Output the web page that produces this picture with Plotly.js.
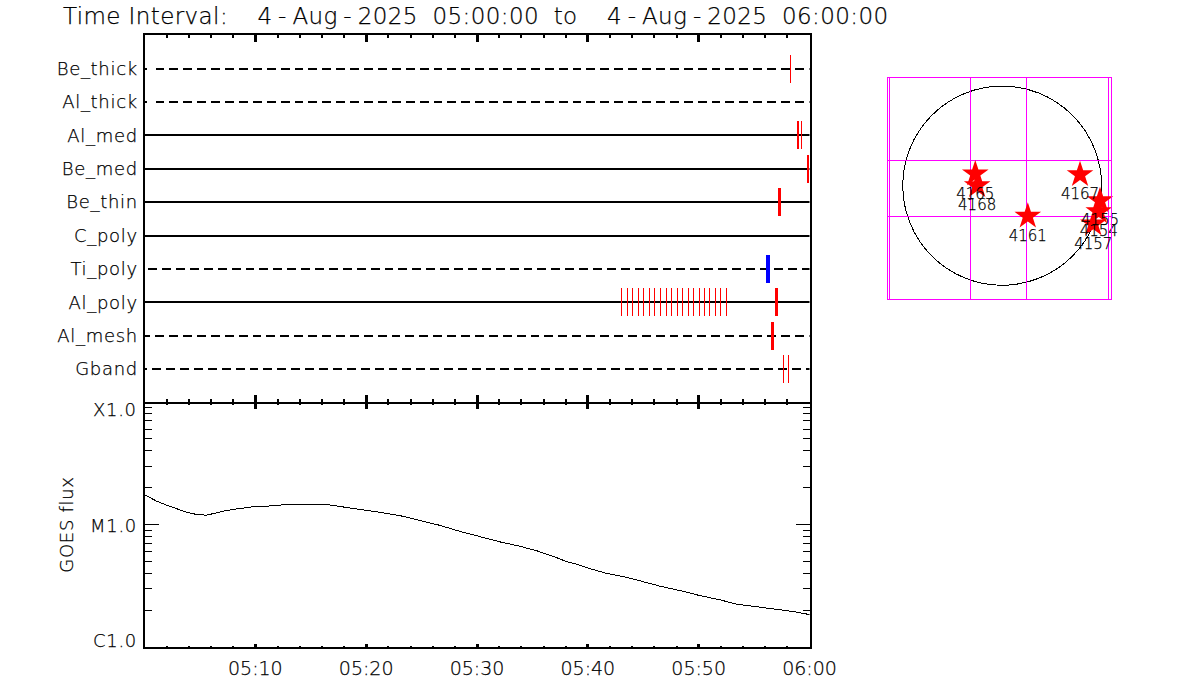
<!DOCTYPE html>
<html><head><meta charset="utf-8">
<script src="https://cdn.plot.ly/plotly-3.0.1.min.js"></script>
<style>html,body{margin:0;padding:0;background:#fff}#c{width:1200px;height:700px}
#c text{stroke:#000;stroke-width:.25px}
.gtitle{letter-spacing:.4px;word-spacing:7px}
.ytick text,.annotation-text,.g-y2title text{letter-spacing:.7px}
.xtick text{letter-spacing:.8px}
#c .js-line,#c .shapelayer path{shape-rendering:crispEdges}
</style>
</head><body><div id="c"></div>
<script>
// Detector rows, top to bottom
const detectors = ['Be_thick','Al_thick','Al_med','Be_med','Be_thin','C_poly','Ti_poly','Al_poly','Al_mesh','Gband'];
const rowPositions = [10,9,8,7,6,5,4,3,2,1];
const rowDashed = [true,true,false,false,false,false,true,false,true,true];
// Dash layout of each dashed row: first stub length and gap after it, pixels
const rowStub = [2,2,0,0,0,0,0,0,5,2.7];
const rowStubGap = [9,9,0,0,0,0,3.7,0,5.7,5];
// Exposure events: minutes after 05:00, row, line width
const eventRow = ['Be_thick','Al_med','Al_med','Be_med','Be_thin','Ti_poly','Al_poly','Al_mesh','Gband','Gband'];
const eventMin = [58.28,58.98,59.28,59.9,57.28,56.25,57.0,56.65,57.65,58.1];
const eventWidth = [1,2,1,2,3,4,3,3,1,1];
const eventColor = ['#ff0000','#ff0000','#ff0000','#ff0000','#ff0000','#0000ff','#ff0000','#ff0000','#ff0000','#ff0000'];
const alPolyThin = [43.05,43.6,44.05,44.6,45.05,45.55,46.05,46.55,47.1,47.55,48.05,48.5,49.05,49.5,50.05,50.5,51.0,51.55,52.0,52.55];
// GOES flux: minutes, watts/m2
const goesMin = [0,1.1,2,2.9,3.8,4.7,5.6,6.5,7.4,8.6,9.8,11.6,12.8,16.4,17.6,19.4,21.2,23,24.8,26.6,28.4,30.25,32.05,33.85,35.4,36.85,38.05,39,40.15,41.65,43.15,44.7,46.5,48.3,50.1,51.9,53.4,54.9,56.7,58.5,60];
const goesFlux = [1.75e-5,1.55e-5,1.438e-5,1.344e-5,1.26e-5,1.207e-5,1.191e-5,1.246e-5,1.301e-5,1.351e-5,1.395e-5,1.421e-5,1.456e-5,1.456e-5,1.403e-5,1.344e-5,1.26e-5,1.184e-5,1.084e-5,9.87e-6,8.82e-6,7.98e-6,7.22e-6,6.65e-6,6.1e-6,5.51e-6,4.99e-6,4.74e-6,4.37e-6,4.0e-6,3.76e-6,3.47e-6,3.14e-6,2.89e-6,2.63e-6,2.43e-6,2.24e-6,2.15e-6,2.04e-6,1.95e-6,1.84e-6];
const goesTicks = [1e-6,1e-5,1e-4];
const goesTickText = ['C1.0','M1.0','X1.0'];
const goesLabelShift = [7,-1,-7];
const goesMinor = [2e-6,3e-6,4e-6,5e-6,6e-6,7e-6,8e-6,9e-6,2e-5,3e-5,4e-5,5e-5,6e-5,7e-5,8e-5,9e-5];
const timeTicks = [10,20,30,40,50,60];
const timeText = ['05:10','05:20','05:30','05:40','05:50','06:00'];
// Flare map, arcsec from disk centre
const arNames = ['4165','4168','4167','4161','4155','4154','4157'];
const arX = [-257,-239,744,245,935,923,871];
const arY = [112,0,105,-291,-143,-248,-365];
const mapGridX = [-1081,-302,232,1020];
const mapGridY = [-1076,240,-291];
const sunRadius = 950;

const INK = '#000';
const FONT = 'DejaVu Sans, sans-serif';
const W = 200;
const fx = p => p/1200, fy = p => 1-p/700;
const dashFor = i => {
  if(!rowDashed[i]) return 'solid';
  const parts = rowStub[i] ? [rowStub[i]+'px', rowStubGap[i]+'px'] : ['0px', rowStubGap[i]+'px'];
  for(let k=0;k<50;k++){parts.push('8.9px','5px');}
  return parts.join(',');
};
const wide = s => '<span style="letter-spacing:6px">'+s+'</span>';
const titleText = '<span style="word-spacing:0">Time Interval:</span>\u00a0\u00a0'
  + wide('4-')+'Au'+wide('g-')+'2025 05:00:00 to\u00a0\u00a0'
  + wide('4-')+'Au'+wide('g-')+'2025 06:00:00';
const traces = [];
detectors.forEach((d,i)=>{
  traces.push({type:'scatter',mode:'lines',xaxis:'x',yaxis:'y',x:[0,60],y:[rowPositions[i],rowPositions[i]],
    line:{color:INK,width:2,dash:dashFor(i)},hoverinfo:'skip',showlegend:false});
});
const rowOf = n => rowPositions[detectors.indexOf(n)];
eventMin.forEach((m,i)=>{
  const r = rowOf(eventRow[i]);
  traces.push({type:'scatter',mode:'lines',xaxis:'x',yaxis:'y',x:[m,m],y:[r-0.42,r+0.42],
    line:{color:eventColor[i],width:eventWidth[i]},showlegend:false});
});
alPolyThin.forEach(m=>{
  const r = rowOf('Al_poly');
  traces.push({type:'scatter',mode:'lines',xaxis:'x',yaxis:'y',x:[m,m],y:[r-0.42,r+0.42],
    line:{color:'#ff0000',width:1},showlegend:false});
});
traces.push({type:'scatter',mode:'lines',xaxis:'x2',yaxis:'y2',x:goesMin,y:goesFlux,line:{color:INK,width:1},showlegend:false});
traces.push({type:'scatter',mode:'lines',xaxis:'x3',yaxis:'y2',x:[],y:[],showlegend:false});
traces.push({type:'scatter',mode:'markers+text',xaxis:'x4',yaxis:'y4',x:arX,y:arY,text:arNames,textposition:'bottom center',
  marker:{symbol:'star',size:20,color:'#ff0000',line:{width:0}},textfont:{family:FONT,size:15,weight:W,color:INK},cliponaxis:false,showlegend:false});

const xcommon = {range:[0,60],showgrid:false,zeroline:false,tickcolor:INK,linecolor:INK,linewidth:2,showline:true,fixedrange:true};
const layout = {
  width:1200,height:700,margin:{l:0,r:0,t:0,b:0},paper_bgcolor:'#fff',plot_bgcolor:'rgba(0,0,0,0)',showlegend:false,
  font:{family:FONT,color:INK,size:15,weight:W},
  title:{text:titleText,font:{family:FONT,size:23,weight:W,color:INK},x:63/1200,xanchor:'left',y:1-16/700,yanchor:'middle'},
  xaxis:{...xcommon,domain:[fx(144.5),fx(809.5)],anchor:'y',side:'top',mirror:'ticks',ticks:'inside',ticklen:7,tickwidth:3,tickvals:timeTicks,showticklabels:false,
    minor:{ticks:'inside',ticklen:3,tickwidth:2,dtick:2,tick0:0,tickcolor:INK,showgrid:false}},
  yaxis:{range:[0.01,11.01],domain:[fy(402),fy(35)],anchor:'x',showgrid:false,zeroline:false,showline:true,linecolor:INK,linewidth:2,mirror:true,
    tickvals:rowPositions,ticktext:detectors,ticks:'',ticklabelstandoff:1,tickfont:{family:FONT,size:18,weight:W,color:INK},fixedrange:true},
  xaxis2:{...xcommon,domain:[fx(144.5),fx(809.5)],anchor:'y2',side:'bottom',ticks:'inside',ticklen:3,tickwidth:3,tickvals:timeTicks,ticktext:timeText,ticklabelstandoff:3,tickfont:{family:FONT,size:19,weight:W,color:INK},
    minor:{ticks:'inside',ticklen:1,tickwidth:2,dtick:2,tick0:0,tickcolor:INK,showgrid:false}},
  xaxis3:{...xcommon,showline:false,domain:[fx(144.5),fx(809.5)],anchor:'y2',overlaying:'x2',side:'top',ticks:'inside',ticklen:7,tickwidth:3,tickvals:timeTicks,showticklabels:false,
    minor:{ticks:'inside',ticklen:3,tickwidth:2,dtick:2,tick0:0,tickcolor:INK,showgrid:false}},
  yaxis2:{type:'log',range:[-6,-4],domain:[fy(647),fy(402)],anchor:'x2',showgrid:false,zeroline:false,showline:true,linecolor:INK,linewidth:2,mirror:'ticks',
    tickvals:goesTicks,ticks:'inside',ticklen:14,tickwidth:1,tickcolor:INK,showticklabels:false,fixedrange:true,
    title:{text:'GOES flux',font:{family:FONT,size:18,weight:W,color:INK},standoff:64},
    minor:{ticks:'inside',ticklen:7,tickwidth:1,tickvals:goesMinor,tickcolor:INK,showgrid:false}},
  xaxis4:{range:[-1091,1040],domain:[fx(888),fx(1111)],anchor:'y4',showgrid:true,gridcolor:'#ff00ff',gridwidth:1,zeroline:false,showline:true,linecolor:'#ff00ff',linewidth:1,mirror:true,tickvals:mapGridX,ticks:'',showticklabels:false,fixedrange:true},
  yaxis4:{range:[-1081,1027],domain:[fy(299),fy(78)],anchor:'x4',showgrid:true,gridcolor:'#ff00ff',gridwidth:1,zeroline:false,showline:true,linecolor:'#ff00ff',linewidth:1,mirror:true,tickvals:mapGridY,ticks:'',showticklabels:false,fixedrange:true},
  annotations:goesTicks.map((v,i)=>({xref:'paper',yref:'y2',x:139/1200,y:Math.log10(v),xanchor:'right',yanchor:'middle',yshift:goesLabelShift[i],showarrow:false,text:goesTickText[i],font:{family:FONT,size:18,weight:W,color:INK}})),
  shapes:[{type:'circle',xref:'x4',yref:'y4',x0:-sunRadius,x1:sunRadius,y0:-sunRadius,y1:sunRadius,line:{color:INK,width:1},layer:'below'}]
};
Plotly.newPlot('c',traces,layout,{displayModeBar:false,staticPlot:true});
</script></body></html>
